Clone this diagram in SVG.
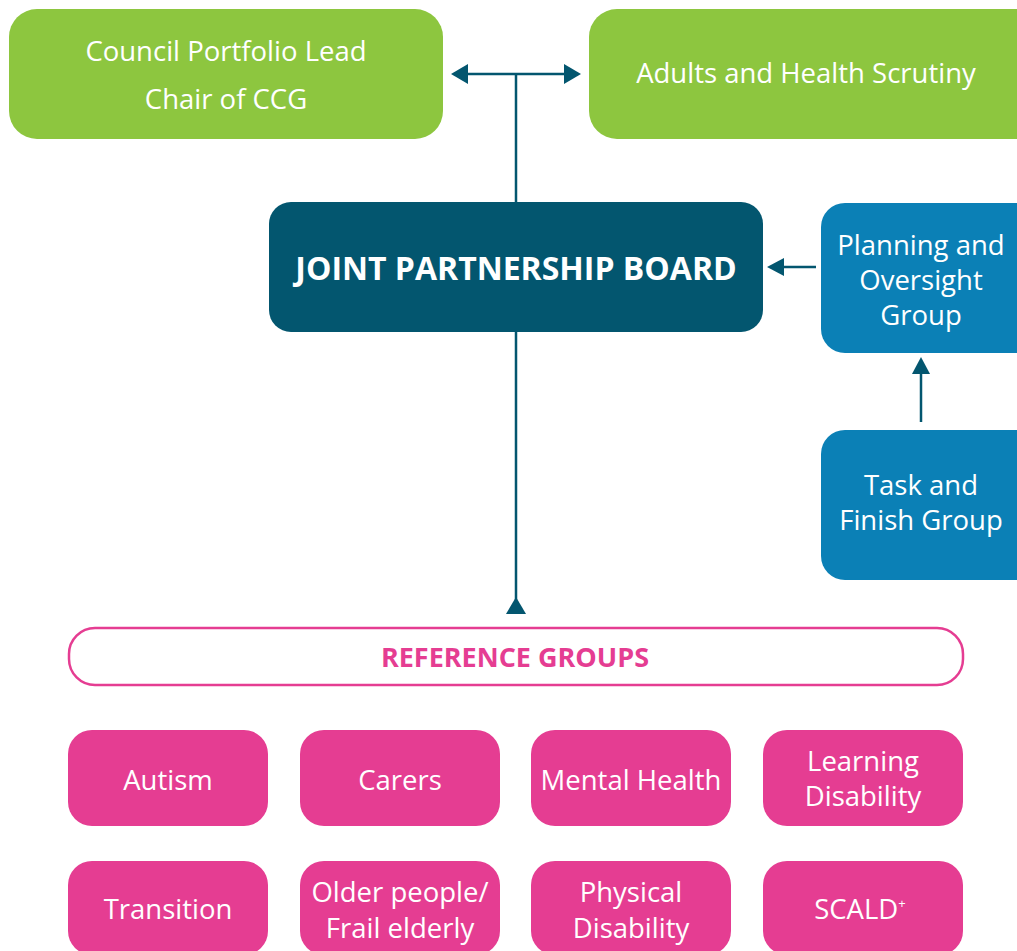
<svg xmlns="http://www.w3.org/2000/svg" width="1017" height="951" viewBox="0 0 1017 951">
<defs>
<style>
.t{font-family:"Open Sans","Noto Sans","Liberation Sans",sans-serif;fill:#ffffff;text-anchor:middle;font-size:27.5px}
.b{font-weight:bold}
.g{fill:#8dc63f}
.d{fill:#03566f}
.bl{fill:#0b80b6}
.p{fill:#e53d92}
.ln{stroke:#03566f;stroke-width:2.5;fill:none}
.ah{fill:#03566f}
</style>
</defs>
<rect width="1017" height="951" fill="#ffffff"/>
<g id="council">
<rect class="g" x="9" y="9" width="434" height="130" rx="28"/>
<text class="t" x="226" y="61">Council Portfolio Lead</text>
<text class="t" x="226" y="109">Chair of CCG</text>
</g>
<g id="scrutiny">
<rect class="g" x="589" y="9" width="460" height="130" rx="28"/>
<text class="t" x="806" y="83">Adults and Health Scrutiny</text>
</g>
<g id="jpb">
<rect class="d" x="269" y="202" width="494" height="130" rx="22"/>
<text class="t b" x="516" y="280" style="font-size:32px">JOINT PARTNERSHIP BOARD</text>
</g>
<g id="planning">
<rect class="bl" x="821" y="203" width="230" height="150" rx="24"/>
<text class="t" x="921" y="255">Planning and</text>
<text class="t" x="921" y="290">Oversight</text>
<text class="t" x="921" y="325">Group</text>
</g>
<g id="task">
<rect class="bl" x="821" y="430" width="230" height="150" rx="24"/>
<text class="t" x="921" y="495">Task and</text>
<text class="t" x="921" y="530">Finish Group</text>
</g>
<g id="reference">
<rect x="69" y="628" width="894" height="57" rx="26" fill="#ffffff" stroke="#e53d92" stroke-width="2.5"/>
<text class="t b" x="515" y="667" style="fill:#e53d92;font-size:27px">REFERENCE GROUPS</text>
</g>
<g id="autism"><rect class="p" x="68" y="730" width="200" height="96" rx="24"/><text class="t" x="168" y="790">Autism</text></g>
<g id="carers"><rect class="p" x="300" y="730" width="200" height="96" rx="24"/><text class="t" x="400" y="790">Carers</text></g>
<g id="mental"><rect class="p" x="531" y="730" width="200" height="96" rx="24"/><text class="t" x="631" y="790">Mental Health</text></g>
<g id="learning"><rect class="p" x="763" y="730" width="200" height="96" rx="24"/><text class="t" x="863" y="771">Learning</text><text class="t" x="863" y="806">Disability</text></g>
<g id="transition"><rect class="p" x="68" y="861" width="200" height="94" rx="24"/><text class="t" x="168" y="919">Transition</text></g>
<g id="older"><rect class="p" x="300" y="861" width="200" height="94" rx="24"/><text class="t" x="400" y="902">Older people/</text><text class="t" x="400" y="938">Frail elderly</text></g>
<g id="physical"><rect class="p" x="531" y="861" width="200" height="94" rx="24"/><text class="t" x="631" y="902">Physical</text><text class="t" x="631" y="938">Disability</text></g>
<g id="scald"><rect class="p" x="763" y="861" width="200" height="94" rx="24"/><text class="t" x="860" y="919">SCALD<tspan dy="-11" style="font-size:13px">+</tspan></text></g>
<g id="connectors">
<line class="ln" x1="466" y1="74" x2="566" y2="74"/>
<polygon class="ah" points="451,74 468,64 468,84"/>
<polygon class="ah" points="581,74 564,64 564,84"/>
<line class="ln" x1="516" y1="74" x2="516" y2="202"/>
<line class="ln" x1="516" y1="332" x2="516" y2="600"/>
<polygon class="ah" points="516,597 506,614 526,614"/>
<line class="ln" x1="782" y1="267" x2="816" y2="267"/>
<polygon class="ah" points="767,267 784,258 784,276"/>
<line class="ln" x1="921" y1="372" x2="921" y2="422"/>
<polygon class="ah" points="921,357 912,374 930,374"/>
</g>
</svg>
